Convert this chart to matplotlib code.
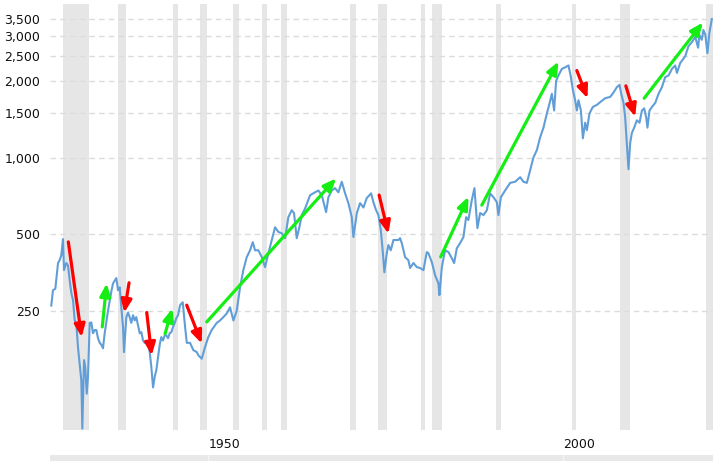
import matplotlib
matplotlib.use("Agg")
import matplotlib.pyplot as plt
from matplotlib.ticker import FixedLocator, FuncFormatter, NullLocator

# Inflation-adjusted index (year, value)
years = [
    1927.88, 1928.12, 1928.45, 1928.83, 1929.06, 1929.29, 1929.53, 1929.67, 1929.99, 1930.23,
    1930.47, 1930.70, 1930.94, 1931.18, 1931.40, 1931.64, 1931.88, 1932.11, 1932.25, 1932.49,
    1932.67, 1932.87, 1933.05, 1933.29, 1933.52, 1933.75, 1933.99, 1934.22, 1934.46, 1934.70,
    1934.92, 1935.16, 1935.40, 1935.87, 1936.33, 1936.57, 1937.04, 1937.28, 1937.52, 1937.74,
    1937.98, 1938.12, 1938.45, 1938.68, 1938.92, 1939.15, 1939.39, 1939.63, 1939.85, 1940.09,
    1940.33, 1940.56, 1940.80, 1941.04, 1941.26, 1941.50, 1941.74, 1941.97, 1942.21, 1942.45,
    1942.67, 1942.91, 1943.15, 1943.37, 1943.61, 1943.85, 1944.08, 1944.32, 1944.56, 1944.78,
    1945.02, 1945.26, 1945.49, 1945.73, 1946.01, 1946.39, 1946.72, 1946.96, 1947.42, 1947.88,
    1948.36, 1948.59, 1949.06, 1949.53, 1949.99, 1950.47, 1951.18, 1951.64, 1952.11, 1952.59,
    1953.05, 1953.52, 1953.99, 1954.46, 1954.92, 1955.40, 1955.87, 1956.25, 1956.57, 1957.04,
    1957.52, 1957.98, 1958.45, 1958.92, 1959.39, 1959.85, 1960.33, 1960.80, 1961.26, 1961.74,
    1962.06, 1962.44, 1962.81, 1963.15, 1963.61, 1964.32, 1965.02, 1965.49, 1965.97, 1966.57,
    1966.90, 1967.37, 1967.84, 1968.30, 1968.78, 1969.25, 1969.71, 1970.19, 1970.42, 1970.90,
    1971.36, 1971.83, 1972.30, 1972.91, 1973.23, 1973.61, 1973.94, 1974.28, 1974.56, 1974.78,
    1975.12, 1975.35, 1975.68, 1976.05, 1976.75, 1976.99, 1977.23, 1977.70, 1978.16, 1978.40,
    1978.87, 1979.35, 1979.81, 1980.28, 1980.75, 1980.98, 1981.46, 1981.92, 1982.39, 1982.53,
    1982.87, 1983.33, 1983.80, 1984.28, 1984.60, 1984.98, 1985.44, 1985.91, 1986.29, 1986.61,
    1987.09, 1987.46, 1987.70, 1987.88, 1988.26, 1988.73, 1989.21, 1989.67, 1990.14, 1990.61,
    1990.84, 1991.18, 1991.78, 1992.49, 1993.19, 1993.90, 1994.36, 1994.84, 1995.30, 1995.77,
    1996.25, 1996.71, 1997.18, 1997.66, 1997.98, 1998.36, 1998.68, 1998.96, 1999.29, 1999.77,
    2000.23, 2000.70, 2001.04, 2001.32, 2001.64, 2001.88, 2002.11, 2002.45, 2002.73, 2003.05,
    2003.29, 2003.66, 2004.13, 2004.70, 2005.16, 2005.87, 2006.57, 2007.04, 2007.52, 2007.89,
    2008.13, 2008.45, 2008.68, 2008.92, 2009.15, 2009.39, 2009.63, 2009.95, 2010.33, 2010.70,
    2011.04, 2011.36, 2011.64, 2011.82, 2012.11, 2012.45, 2012.92, 2013.38, 2013.86, 2014.32,
    2014.79, 2015.27, 2015.73, 2015.97, 2016.43, 2017.14, 2017.60, 2018.08, 2018.55, 2018.95,
    2019.14, 2019.47, 2019.70, 2019.98, 2020.26, 2020.54, 2020.88,
]
values = [
    262, 301, 305, 385, 395, 413, 478, 361, 385, 377,
    330, 294, 275, 229, 224, 180, 155, 133, 86, 160,
    150, 118, 138, 224, 225, 204, 210, 210, 195, 187,
    184, 178, 204, 250, 297, 320, 336, 301, 309, 258,
    216, 172, 236, 246, 236, 224, 240, 229, 236, 219,
    204, 206, 191, 187, 187, 189, 172, 150, 125, 138,
    146, 164, 184, 197, 191, 200, 200, 195, 204, 206,
    216, 224, 234, 240, 263, 270, 216, 187, 187, 175,
    172, 167, 162, 180, 197, 210, 224, 229, 236, 244,
    258, 229, 250, 309, 361, 406, 432, 465, 432, 432,
    406, 371, 421, 474, 532, 510, 504, 482, 583, 621,
    605, 482, 532, 594, 630, 711, 730, 742, 711, 610,
    698, 742, 758, 730, 803, 723, 662, 583, 487, 605,
    662, 636, 693, 723, 668, 621, 594, 518, 425, 354,
    421, 453, 432, 474, 474, 482, 461, 406, 395, 368,
    385, 371, 368, 361, 425, 421, 388, 345, 320, 288,
    371, 432, 425, 402, 385, 440, 461, 487, 583, 568,
    680, 758, 621, 528, 605, 594, 621, 723, 698, 668,
    594, 698, 742, 795, 803, 837, 803, 795, 892, 1000,
    1070, 1200, 1310, 1490, 1610, 1780, 1530, 2000, 2100, 2230,
    2260, 2300, 2074, 1840, 1680, 1530, 1680, 1530, 1190, 1370,
    1280, 1490, 1580, 1610, 1650, 1710, 1730, 1800, 1890, 1930,
    1780, 1640, 1440, 1140, 900, 1140, 1250, 1310, 1400, 1370,
    1530, 1560, 1440, 1310, 1530, 1580, 1640, 1780, 1890, 2070,
    2100, 2230, 2300, 2150, 2350, 2500, 2740, 2840, 2980, 2700,
    3030, 2900, 3170, 3030, 2570, 3080, 3500,
]

# Recession periods (start, end)
recessions = [
    (1929.58, 1933.17), (1937.33, 1938.42), (1945.08, 1945.75), (1948.83, 1949.75),
    (1953.50, 1954.33), (1957.58, 1958.25), (1960.25, 1961.08), (1969.92, 1970.83),
    (1973.83, 1975.17), (1980.00, 1980.50), (1981.50, 1982.83), (1990.50, 1991.17),
    (2001.17, 2001.83), (2007.92, 2009.42), (2020.12, 2021.00),
]

# Trend arrows: (start year, start value, end year, end value)
red_arrows = [
    (1930.28, 466, 1932.16, 197),
    (1938.83, 322, 1938.16, 246),
    (1941.32, 246, 1942.02, 167),
    (1946.95, 263, 1949.06, 186),
    (1974.04, 712, 1975.35, 502),
    (2001.88, 2196, 2003.38, 1710),
    (2008.78, 1912, 2010.09, 1447),
]
green_arrows = [
    (1935.06, 216, 1935.68, 320),
    (1943.90, 203, 1944.92, 255),
    (1949.77, 226, 1967.98, 828),
    (1982.71, 407, 1986.62, 701),
    (1988.50, 650, 1999.29, 2382),
    (2011.36, 1710, 2019.63, 3392),
]

y_ticks = [250, 500, 1000, 1500, 2000, 2500, 3000, 3500]
x_ticks = [1950, 2000]

fig = plt.figure(figsize=(7.26, 4.61), dpi=100)
ax = fig.add_axes([50 / 726, 1 - 430 / 461, 663 / 726, 426 / 461])

for start, end in recessions:
    ax.axvspan(start, end, color="#e6e6e6", lw=0, zorder=0)

ax.plot(years, values, color="#619ed8", lw=1.5, zorder=2)


def draw_arrow(a, color):
    x0, y0, x1, y1 = a
    ax.annotate("", xy=(x1, y1), xytext=(x0, y0),
                arrowprops=dict(arrowstyle="-|>,head_length=0.75,head_width=0.32",
                                color=color, lw=2.3, shrinkA=0, shrinkB=0),
                zorder=3)


for a in red_arrows:
    draw_arrow(a, "#ff0000")
for a in green_arrows:
    draw_arrow(a, "#14ee14")

ax.set_yscale("log")
ax.set_xlim(1927.7, 2021.05)
ax.set_ylim(85, 4010)

ax.yaxis.set_major_locator(FixedLocator(y_ticks))
ax.yaxis.set_minor_locator(NullLocator())
ax.yaxis.set_major_formatter(FuncFormatter(lambda v, p: f"{int(v):,}"))
ax.grid(axis="y", color="#dcdcdc", ls=(0, (4, 3)), lw=1)
ax.set_axisbelow(True)

ax.set_xticks(x_ticks)
ax.set_xticklabels([str(t) for t in x_ticks], ha="left")
ax.tick_params(axis="x", length=0, pad=6, labelsize=9, labelcolor="#111111")
ax.tick_params(axis="y", length=0, pad=7, labelsize=9, labelcolor="#111111")

for s in ax.spines.values():
    s.set_visible(False)

# navigator strip at the bottom
nav = fig.add_axes([50 / 726, 0, 663 / 726, 6 / 461])
nav.set_xlim(1927.7, 2021.05)
nav.set_facecolor("#e8e8e8")
for t in x_ticks:
    nav.axvline(t, color="#f4f4f4", lw=1)
nav.set_xticks([])
nav.set_yticks([])
for s in nav.spines.values():
    s.set_visible(False)

fig.savefig("out.png", dpi=100)
